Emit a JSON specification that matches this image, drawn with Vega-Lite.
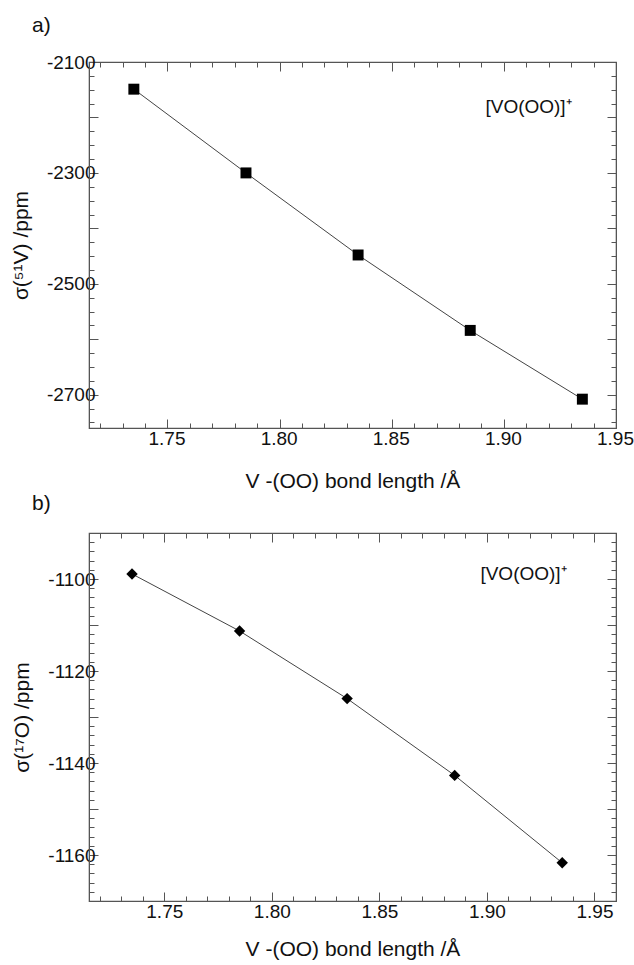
{
  "$schema": "https://vega.github.io/schema/vega-lite/v6.json",
  "padding": {"left": 9, "top": 14, "right": 0, "bottom": 0},
  "spacing": 0,
  "config": {
    "font": "Liberation Sans",
    "view": {"stroke": "#555", "strokeWidth": 1.2},
    "axis": {
      "domainColor": "#555",
      "tickColor": "#555",
      "grid": false,
      "labelFont": "Liberation Sans",
      "labelFontSize": 19,
      "labelColor": "#111",
      "titleFont": "Liberation Sans",
      "titleFontSize": 21,
      "titleFontWeight": "normal",
      "titleColor": "#111",
      "labelFlush": false,
      "labelOverlap": false
    },
    "title": {"font": "Liberation Sans", "fontWeight": "normal", "fontSize": 21, "color": "#111"}
  },
  "datasets": {
    "vanadium": [
      {"bond": 1.735, "sigma": -2149},
      {"bond": 1.785, "sigma": -2300},
      {"bond": 1.835, "sigma": -2448},
      {"bond": 1.885, "sigma": -2584},
      {"bond": 1.935, "sigma": -2708}
    ],
    "oxygen": [
      {"bond": 1.735, "sigma": -1098.9},
      {"bond": 1.785, "sigma": -1111.3},
      {"bond": 1.835, "sigma": -1126.0},
      {"bond": 1.885, "sigma": -1142.7},
      {"bond": 1.935, "sigma": -1161.7}
    ],
    "labelA": [{"bond": 1.911, "sigma": -2182, "label": "[VO(OO)]⁺"}],
    "labelB": [{"bond": 1.917, "sigma": -1099, "label": "[VO(OO)]⁺"}]
  },
  "vconcat": [
    {
      "width": 527,
      "height": 366,
      "title": {"text": "a)", "anchor": "start", "frame": "group", "dx": -57, "offset": 17},
      "data": {"name": "vanadium"},
      "layer": [
        {
          "mark": {"type": "line", "color": "#444", "strokeWidth": 1},
          "encoding": {
            "x": {"field": "bond", "type": "quantitative", "scale": {"domain": [1.715, 1.95], "nice": false, "zero": false},
              "axis": {"orient": "bottom", "title": "V -(OO) bond length /Å", "values": [1.72,1.73,1.74,1.75,1.76,1.77,1.78,1.79,1.80,1.81,1.82,1.83,1.84,1.85,1.86,1.87,1.88,1.89,1.90,1.91,1.92,1.93,1.94,1.95],
                "labelExpr": "round(datum.value*100) % 5 === 0 ? format(datum.value, '.2f') : ''",
                "tickSize": {"condition": {"test": "round(datum.value*100) % 5 === 0", "value": -9}, "value": -5},
                "labelPadding": 10, "labelOffset": -1, "titlePadding": 18}},
            "y": {"field": "sigma", "type": "quantitative", "scale": {"domain": [-2760, -2100], "nice": false, "zero": false},
              "axis": {"orient": "left", "title": "σ(⁵¹V) /ppm", "values": [-2750,-2725,-2700,-2675,-2650,-2625,-2600,-2575,-2550,-2525,-2500,-2475,-2450,-2425,-2400,-2375,-2350,-2325,-2300,-2275,-2250,-2225,-2200,-2175,-2150,-2125,-2100],
                "labelExpr": "(datum.value + 2100) % 200 === 0 ? '' + datum.value : ''",
                "tickSize": {"condition": {"test": "(datum.value + 2100) % 100 === 0", "value": -9}, "value": -5},
                "labelPadding": 3, "titlePadding": 15}}
          }
        },
        {
          "mark": {"type": "point", "shape": "square", "filled": true, "color": "#000", "opacity": 1, "size": 120},
          "encoding": {
            "x": {"field": "bond", "type": "quantitative", "axis": null},
            "y": {"field": "sigma", "type": "quantitative", "axis": null}
          }
        },
        {
          "data": {"name": "labelA"},
          "mark": {"type": "text", "fontSize": 19, "font": "Liberation Sans", "color": "#111", "align": "center", "baseline": "middle"},
          "encoding": {
            "text": {"field": "label"},
            "x": {"field": "bond", "type": "quantitative",
              "axis": {"orient": "top", "title": null, "labels": false, "values": [1.72,1.73,1.74,1.75,1.76,1.77,1.78,1.79,1.80,1.81,1.82,1.83,1.84,1.85,1.86,1.87,1.88,1.89,1.90,1.91,1.92,1.93,1.94,1.95],
                "tickSize": {"condition": {"test": "round(datum.value*100) % 5 === 0", "value": -9}, "value": -5}}},
            "y": {"field": "sigma", "type": "quantitative",
              "axis": {"orient": "right", "title": null, "labels": false, "values": [-2750,-2725,-2700,-2675,-2650,-2625,-2600,-2575,-2550,-2525,-2500,-2475,-2450,-2425,-2400,-2375,-2350,-2325,-2300,-2275,-2250,-2225,-2200,-2175,-2150,-2125,-2100],
                "tickSize": {"condition": {"test": "(datum.value + 2100) % 100 === 0", "value": -9}, "value": -5}}}
          }
        }
      ],
      "resolve": {"axis": {"x": "independent", "y": "independent"}}
    },
    {
      "width": 527,
      "height": 368,
      "title": {"text": "b)", "anchor": "start", "frame": "group", "dx": -57, "offset": 10},
      "data": {"name": "oxygen"},
      "layer": [
        {
          "mark": {"type": "line", "color": "#444", "strokeWidth": 1},
          "encoding": {
            "x": {"field": "bond", "type": "quantitative", "scale": {"domain": [1.715, 1.96], "nice": false, "zero": false},
              "axis": {"orient": "bottom", "title": "V -(OO) bond length /Å", "values": [1.72,1.73,1.74,1.75,1.76,1.77,1.78,1.79,1.80,1.81,1.82,1.83,1.84,1.85,1.86,1.87,1.88,1.89,1.90,1.91,1.92,1.93,1.94,1.95,1.96],
                "labelExpr": "round(datum.value*100) % 5 === 0 ? format(datum.value, '.2f') : ''",
                "tickSize": {"condition": {"test": "round(datum.value*100) % 5 === 0", "value": -9}, "value": -5},
                "labelPadding": 10, "titlePadding": 13}},
            "y": {"field": "sigma", "type": "quantitative", "scale": {"domain": [-1170, -1090], "nice": false, "zero": false},
              "axis": {"orient": "left", "title": "σ(¹⁷O) /ppm", "values": [-1170,-1168,-1166,-1164,-1162,-1160,-1158,-1156,-1154,-1152,-1150,-1148,-1146,-1144,-1142,-1140,-1138,-1136,-1134,-1132,-1130,-1128,-1126,-1124,-1122,-1120,-1118,-1116,-1114,-1112,-1110,-1108,-1106,-1104,-1102,-1100,-1098,-1096,-1094,-1092,-1090],
                "labelExpr": "datum.value % 20 === 0 ? '' + datum.value : ''",
                "tickSize": {"condition": {"test": "datum.value % 10 === 0", "value": -9}, "value": -5},
                "labelPadding": 3, "titlePadding": 15}}
          }
        },
        {
          "mark": {"type": "point", "shape": "diamond", "filled": true, "color": "#000", "opacity": 1, "size": 130},
          "encoding": {
            "x": {"field": "bond", "type": "quantitative", "axis": null},
            "y": {"field": "sigma", "type": "quantitative", "axis": null}
          }
        },
        {
          "data": {"name": "labelB"},
          "mark": {"type": "text", "fontSize": 19, "font": "Liberation Sans", "color": "#111", "align": "center", "baseline": "middle"},
          "encoding": {
            "text": {"field": "label"},
            "x": {"field": "bond", "type": "quantitative",
              "axis": {"orient": "top", "title": null, "labels": false, "values": [1.72,1.73,1.74,1.75,1.76,1.77,1.78,1.79,1.80,1.81,1.82,1.83,1.84,1.85,1.86,1.87,1.88,1.89,1.90,1.91,1.92,1.93,1.94,1.95,1.96],
                "tickSize": {"condition": {"test": "round(datum.value*100) % 5 === 0", "value": -9}, "value": -5}}},
            "y": {"field": "sigma", "type": "quantitative",
              "axis": {"orient": "right", "title": null, "labels": false, "values": [-1170,-1168,-1166,-1164,-1162,-1160,-1158,-1156,-1154,-1152,-1150,-1148,-1146,-1144,-1142,-1140,-1138,-1136,-1134,-1132,-1130,-1128,-1126,-1124,-1122,-1120,-1118,-1116,-1114,-1112,-1110,-1108,-1106,-1104,-1102,-1100,-1098,-1096,-1094,-1092,-1090],
                "tickSize": {"condition": {"test": "datum.value % 10 === 0", "value": -9}, "value": -5}}}
          }
        }
      ],
      "resolve": {"axis": {"x": "independent", "y": "independent"}}
    }
  ]
}
